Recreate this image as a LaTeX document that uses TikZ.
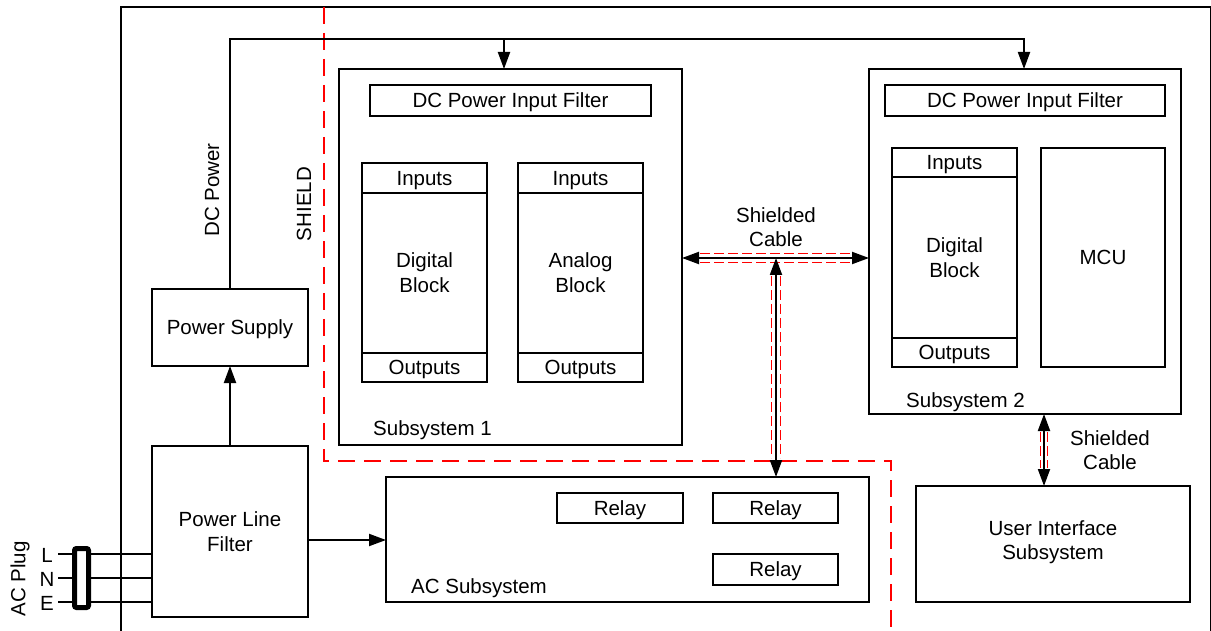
\documentclass[tikz,border=0pt]{standalone}
\usepackage{fontspec}
\setmainfont{Liberation Sans}
\usetikzlibrary{arrows.meta,calc}
\begin{document}
\begin{tikzpicture}[x=1pt,y=-1pt,
  font=\fontsize{20.5}{24.5}\selectfont,
  box/.style={draw, line width=2pt, inner sep=0pt, outer sep=0pt, anchor=north west},
  one/.style={text height=14.7pt, text depth=0pt},
  wire/.style={line width=2pt, line join=miter},
  tip/.tip={Triangle[length=17pt,width=12pt]},
  arr/.style={wire, -tip},
  dblarr/.style={wire, tip-tip},
  shield/.style={draw=red, line width=2pt, dash pattern=on 17pt off 9pt},
  braid/.style={draw=red, line width=1.3pt, dash pattern=on 10pt off 4pt},
  lbl/.style={inner sep=0pt, anchor=west},
]
\useasboundingbox (0,0) rectangle (1211,631);
\clip (0,0) rectangle (1211,631);

% enclosure
\draw[line width=2pt] (121,7) rectangle (1210.5,660);

% shield boundary
\draw[shield] (324,7) -- (324,461) -- (891,461) -- (891,640);

% power path
\node[box, one, minimum width=156pt, minimum height=77pt] (ps) at (152,289) {Power Supply};
\node[box, align=center, minimum width=156pt, minimum height=171pt] (plf) at (152,446) {Power Line\\Filter};

% subsystem 1
\node[box, minimum width=343pt, minimum height=376pt] (sub1) at (339,69) {};
\node[lbl] (sub1l) at (373,430) {Subsystem 1};
\node[box, one, minimum width=281pt, minimum height=31pt] (dcf1) at (370,85) {DC Power Input Filter};
\node[box, align=center, minimum width=125pt, minimum height=219pt] (dig1) at (362,163) {Digital\\Block};
\node[box, one, minimum width=125pt, minimum height=30pt] (in1) at (362,163) {Inputs};
\node[box, one, minimum width=125pt, minimum height=29pt] (out1) at (362,353) {Outputs};
\node[box, align=center, minimum width=125pt, minimum height=219pt] (ana1) at (518,163) {Analog\\Block};
\node[box, one, minimum width=125pt, minimum height=30pt] (in2) at (518,163) {Inputs};
\node[box, one, minimum width=125pt, minimum height=29pt] (out2) at (518,353) {Outputs};

% subsystem 2
\node[box, minimum width=312pt, minimum height=345pt] (sub2) at (869,69) {};
\node[lbl] (sub2l) at (906,402) {Subsystem 2};
\node[box, one, minimum width=280pt, minimum height=31pt] (dcf2) at (885,85) {DC Power Input Filter};
\node[box, align=center, minimum width=125pt, minimum height=219pt] (dig2) at (892,148) {Digital\\Block};
\node[box, one, minimum width=125pt, minimum height=29pt] (in3) at (892,148) {Inputs};
\node[box, one, minimum width=125pt, minimum height=29pt] (out3) at (892,338) {Outputs};
\node[box, one, minimum width=124pt, minimum height=219pt] (mcu) at (1041,148) {MCU};

% AC subsystem
\node[box, minimum width=483pt, minimum height=125pt] (ac) at (386,477) {};
\node[lbl] (acl) at (411,588) {AC Subsystem};
\node[box, one, minimum width=126pt, minimum height=30pt] (rl1) at (557,493) {Relay};
\node[box, one, minimum width=125pt, minimum height=30pt] (rl2) at (713,493) {Relay};
\node[box, one, minimum width=125pt, minimum height=31pt] (rl3) at (713,554) {Relay};

% user interface
\node[box, minimum width=274pt, minimum height=116pt] (ui) at (916,486) {};
\node[align=center] (uil) at (1053,542) {User Interface\\Subsystem};

% labels
\node[rotate=90] (dcl) at (212,190) {DC Power};
\node[rotate=90] (shl) at (304,204) {SHIELD};
\node[align=center] (sc1) at (776,227) {Shielded\\Cable};
\node[align=center] (sc2) at (1110,450) {Shielded\\Cable};

% DC power distribution
\coordinate (tap1) at (504,39);
\coordinate (tap2) at (1024,39);
\draw[arr] (ps.north) |- (tap2) -- (tap2 |- sub2.north);
\draw[arr] (tap1) -- (tap1 |- sub1.north);

\draw[arr] (plf.north) -- (ps.south);
\coordinate (acin) at (386,540);
\draw[arr] (acin -| plf.east) -- (ac.west |- acin);

% shielded cable between subsystems
\coordinate (cj) at (776,258);
\draw[braid] (700,253.5) -- (852,253.5);
\draw[braid] (700,262.5) -- (852,262.5);
\draw[dblarr] (sub1.east |- cj) -- (sub2.west |- cj);
\draw[braid] (771.5,276) -- (771.5,458);
\draw[braid] (780.5,276) -- (780.5,458);
\draw[dblarr] (cj) -- (cj |- ac.north);

% shielded cable to user interface
\coordinate (c2) at (1044,0);
\draw[braid] (1040.5,432) -- (1040.5,468);
\draw[braid] (1047.5,432) -- (1047.5,468);
\draw[dblarr] (c2 |- sub2.south) -- (c2 |- ui.north);

% AC plug
\coordinate (pL) at (58,554);
\coordinate (pN) at (58,578);
\coordinate (pE) at (58,602);
\draw[wire] (pL) -- (pL -| plf.west);
\draw[wire] (pN) -- (pN -| plf.west);
\draw[wire] (pE) -- (pE -| plf.west);
\node[draw, line width=5pt, fill=white, rounded corners=2pt, inner sep=0pt, outer sep=0pt,
      minimum width=14pt, minimum height=59pt] (plug) at (81.5,578) {};
\node (lL) at (47,555) {L};
\node (lN) at (47,579) {N};
\node (lE) at (47,603) {E};
\node[rotate=90] (acp) at (20,579) {AC Plug};
\end{tikzpicture}
\end{document}
